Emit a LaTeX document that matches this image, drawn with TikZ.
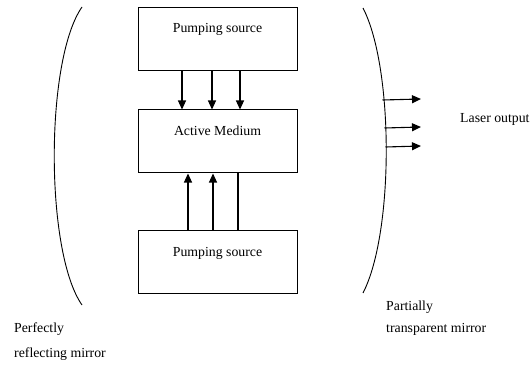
\documentclass[tikz,border=0pt]{standalone}
\usepackage{fontspec}
\setmainfont{Liberation Serif}
\usetikzlibrary{arrows.meta}
\tikzset{
  boxnode/.style={draw, line width=1pt, minimum width=159pt, minimum height=63pt, inner sep=0pt},
  lbl/.style={font=\fontsize{13.8}{16}\selectfont, inner sep=0pt, anchor=base},
  sidelbl/.style={font=\fontsize{13.8}{16}\selectfont, inner sep=0pt, anchor=base west},
  pump/.style={line width=1.1pt, -{Triangle[length=9pt,width=8pt]}},
  mirror/.style={line width=0.9pt},
}
\begin{document}
\begin{tikzpicture}[x=1pt,y=-1pt]
\useasboundingbox (0,0) rectangle (531,369);
% boxes
\node[boxnode] (top) at (217.5,39) {};
\node[boxnode] (mid) at (217.5,141.5) {};
\node[boxnode] (bot) at (217.5,261.5) {};
\node[lbl] (toptxt) at ([yshift=-26pt]top.north) {Pumping source};
\node[lbl] (midtxt) at ([yshift=-26pt]mid.north) {Active Medium};
\node[lbl] (bottxt) at ([yshift=-27pt]bot.north) {Pumping source};
% pumping arrows down
\draw[pump] ([xshift=-35.5pt]top.south) -- ([xshift=-35.5pt]mid.north);
\draw[pump] ([xshift=-5.5pt]top.south) -- ([xshift=-5.5pt]mid.north);
\draw[pump] ([xshift=22.5pt]top.south) -- ([xshift=22.5pt]mid.north);
% pumping arrows up
\draw[pump] ([xshift=-29.5pt]bot.north) -- ([xshift=-29.5pt]mid.south);
\draw[pump] ([xshift=-4.5pt]bot.north) -- ([xshift=-4.5pt]mid.south);
\draw[line width=1.4pt] ([xshift=20.5pt]bot.north) -- ([xshift=20.5pt]mid.south);
% mirrors
\coordinate (lmt) at (82,7);
\coordinate (lmb) at (82,305);
\draw[mirror] (lmt) .. controls (45,60) and (45,252) .. (lmb);
\coordinate (rmt) at (363,8);
\coordinate (rmb) at (363,293);
\draw[mirror] (rmt) .. controls (394,68) and (394,233) .. (rmb);
% laser output arrows
\coordinate (o1) at (382.5,100);
\coordinate (o2) at (384.5,128);
\coordinate (o3) at (385.5,147);
\coordinate (e1) at (421,99);
\coordinate (e2) at (421,127);
\coordinate (e3) at (421,146);
\draw[pump] (o1) -- (e1);
\draw[pump] (o2) -- (e2);
\draw[pump] (o3) -- (e3);
% labels
\node[sidelbl] (laser) at (460,123) {Laser output};
\node[sidelbl] (perf1) at (14,332) {Perfectly};
\node[sidelbl] (perf2) at (14,357) {reflecting mirror};
\node[sidelbl] (part1) at (386,310) {Partially};
\node[sidelbl] (part2) at (386,332) {transparent mirror};
\end{tikzpicture}
\end{document}
